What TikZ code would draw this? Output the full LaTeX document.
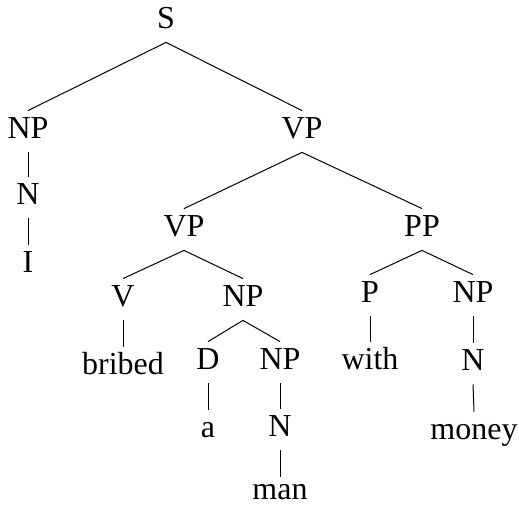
\documentclass[tikz,border=0pt]{standalone}
\usepackage{fontspec}
\setmainfont{Liberation Serif}
\begin{document}
\begin{tikzpicture}[x=0.5pt,y=0.5pt,
		cat/.style={anchor=base,inner xsep=1pt,inner ysep=3.5pt,text height=10.5pt,text depth=3pt,font=\fontsize{16}{19}\selectfont},
		br/.style={line width=0.5pt}]
			%\draw[line width=0.2pt] (0,0) grid (519,507);
			\useasboundingbox (0,0) rectangle (519,507);
			\node[cat] (s) at (166,478) {S};
			\node[cat] (np) at (28,368) {NP};
			\node[cat] (vp) at (302,368) {VP};
			\node[cat] (n) at (28,302) {N};
			\node[cat] (i) at (28,234) {I};
			\node[cat] (vpb) at (184,270) {VP};
			\node[cat] (pp) at (422,270) {PP};
			\node[cat] (v) at (123,200) {V};
			\node[cat] (npo) at (243,200) {NP};
			\node[cat] (p) at (370,204) {P};
			\node[cat] (npm) at (473,204) {NP};
			\node[cat] (bribed) at (123,132) {bribed};
			\node[cat] (d) at (208,137) {D};
			\node[cat] (npn) at (280,137) {NP};
			\node[cat] (with) at (370,137) {with};
			\node[cat] (nm) at (473,136) {N};
			\node[cat] (a) at (208,69) {a};
			\node[cat] (nn) at (280,70) {N};
			\node[cat] (money) at (474,67) {money};
			\node[cat,text depth=0pt,inner ysep=1pt] (man) at (280,7) {man};
			% branches
			\draw[br] (np.north) -- (s.south) -- (vp.north);
			\draw[br] (np.south) -- (n.north);
			\draw[br] (n.south) -- (i.north);
			\draw[br] (vpb.north) -- (vp.south) -- (pp.north);
			\draw[br] (v.north) -- (vpb.south) -- (npo.north);
			\draw[br] (v.south) -- (bribed.north);
			\draw[br] (d.north) -- (npo.south) -- (npn.north);
			\draw[br] (d.south) -- (a.north);
			\draw[br] (npn.south) -- (nn.north);
			\draw[br] (nn.south) -- (man.north);
			\draw[br] (p.north) -- (pp.south) -- (npm.north);
			\draw[br] (p.south) -- (with.north);
			\draw[br] (npm.south) -- (nm.north);
			\draw[br] (nm.south) -- (money.north);
	\end{tikzpicture}
\end{document}
